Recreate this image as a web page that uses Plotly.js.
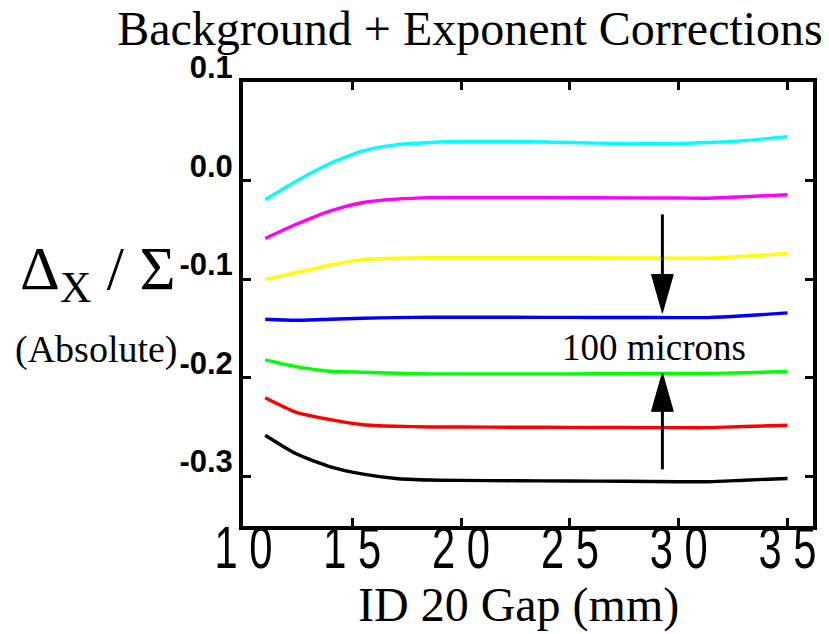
<!DOCTYPE html>
<html>
<head>
<meta charset="utf-8">
<script src="https://cdn.plot.ly/plotly-3.0.1.min.js"></script>
<style>html,body{margin:0;padding:0;background:#fff;}#chart{width:829px;height:634px;}</style>
</head>
<body>
<div id="chart"></div>
<script>
// ---- data ----
const gap = [11, 12.4, 14, 15.5, 17, 18.6, 20, 22.5, 25, 27.5, 30, 31.3, 33, 35];
const cyan    = [-0.019, -0.0005, 0.018, 0.0305, 0.0366, 0.039, 0.040, 0.040, 0.039, 0.038, 0.038, 0.039, 0.041, 0.045];
const magenta = [-0.0585, -0.0443, -0.0303, -0.0219, -0.0185, -0.0169, -0.0168, -0.0168, -0.017, -0.0172, -0.0174, -0.0176, -0.016, -0.014];
const yellow  = [-0.0999, -0.0932, -0.0854, -0.0797, -0.0785, -0.078, -0.078, -0.078, -0.078, -0.0782, -0.0784, -0.0784, -0.0765, -0.0737];
const blue    = [-0.1405, -0.1415, -0.1405, -0.1395, -0.1388, -0.1385, -0.1385, -0.1385, -0.1386, -0.1387, -0.1388, -0.1388, -0.137, -0.134];
const green   = [-0.1818, -0.1886, -0.1933, -0.1943, -0.1953, -0.196, -0.196, -0.196, -0.196, -0.1958, -0.1955, -0.1955, -0.1948, -0.1936];
const red     = [-0.2203, -0.2348, -0.2425, -0.2476, -0.2492, -0.2499, -0.25, -0.2502, -0.2503, -0.2505, -0.2506, -0.2506, -0.2495, -0.2482];
const black   = [-0.2583, -0.2769, -0.2904, -0.2978, -0.3022, -0.3038, -0.3042, -0.3045, -0.3048, -0.305, -0.3055, -0.3055, -0.304, -0.3022];
const seriesList = [cyan, magenta, yellow, blue, green, red, black];
const seriesColors = ['#00FFFF', '#FF00FF', '#FFFF00', '#0000FF', '#00FF00', '#FF0000', '#000000'];

const xTickVals = [10, 15, 20, 25, 30, 35];
const xTickText = ['1 0', '1 5', '2 0', '2 5', '3 0', '3 5'];
const yTickVals = [0.1, 0.0, -0.1, -0.2, -0.3];
const yTickText = ['0.1', '0.0', '-0.1', '-0.2', '-0.3'];

const titleText = 'Background + Exponent Corrections';
const xTitleText = 'ID 20 Gap (mm)';
const yTitleText = 'Δ<sub>X</sub> / Σ';
const ySubTitleText = '(Absolute)';
const noteText = '100 microns';

// arrows (data units)
const arrowX = 29.25;
const arrowDown = [-0.034, -0.134];   // tail, tip
const arrowUp = [-0.293, -0.195];     // tail, tip
const headLen = 0.039, headHalfW = 0.5;

// ---- layout geometry ----
const W = 829, H = 634;
const M = {l: 243, r: 16, t: 82, b: 108};
const PW = W - M.l - M.r, PH = H - M.t - M.b;
const px2x = px => (px - M.l) / PW;
const py2y = py => (H - M.b - py) / PH;

const serif = 'Liberation Serif, Times New Roman, serif';
const xLabelWidth = 58; // condensed width of each x tick label, px

const traces = seriesList.map((s, i) => ({
  x: gap, y: s, type: 'scatter', mode: 'lines',
  line: {color: seriesColors[i], width: 3.4, shape: 'spline', smoothing: 0.6},
  hoverinfo: 'skip', showlegend: false
}));

function arrowShapes(a) {
  const tail = a[0], tip = a[1];
  const dir = tip > tail ? 1 : -1;
  const base = tip - dir * headLen;
  return [
    {type: 'line', xref: 'x', yref: 'y', x0: arrowX, x1: arrowX, y0: tail, y1: base,
     line: {color: '#000', width: 3}},
    {type: 'path', xref: 'x', yref: 'y',
     path: `M ${arrowX - headHalfW},${base} L ${arrowX + headHalfW},${base} L ${arrowX},${tip} Z`,
     fillcolor: '#000', line: {color: '#000', width: 1}}
  ];
}

const axisCommon = {
  showline: true, linecolor: '#000', linewidth: 4, mirror: 'ticks',
  ticks: 'inside', ticklen: 8, tickwidth: 3, tickcolor: '#000',
  showgrid: false, zeroline: false, tickmode: 'array'
};

const layout = {
  width: W, height: H,
  margin: M,
  paper_bgcolor: '#fff', plot_bgcolor: '#fff',
  title: {
    text: titleText, font: {family: serif, size: 48, color: '#000'},
    xref: 'container', yref: 'container', x: 470 / W, xanchor: 'center',
    y: 1 - 28 / H, yanchor: 'middle'
  },
  xaxis: Object.assign({}, axisCommon, {
    range: [9.98, 36.17],
    tickvals: xTickVals, ticktext: xTickText,
    tickfont: {family: 'Liberation Sans', size: 60, color: '#000', weight: 'normal'},
    ticklabelstandoff: -34,
    ticklabeloverflow: 'allow'
  }),
  yaxis: Object.assign({}, axisCommon, {
    range: [-0.3505, 0.1005],
    tickvals: yTickVals, ticktext: yTickText,
    tickfont: {family: 'Liberation Sans', size: 31, color: '#000', weight: 'bold'},
    ticklabelshift: -15
  }),
  shapes: arrowShapes(arrowDown).concat(arrowShapes(arrowUp)),
  annotations: [
    {text: xTitleText, xref: 'paper', yref: 'paper', x: px2x(518), y: py2y(605),
     xanchor: 'center', yanchor: 'middle', showarrow: false,
     font: {family: serif, size: 48, color: '#000'}},
    {text: yTitleText, xref: 'paper', yref: 'paper', x: px2x(18), y: py2y(272),
     xanchor: 'left', yanchor: 'middle', showarrow: false,
     font: {family: serif, size: 62, color: '#000'}},
    {text: ySubTitleText, xref: 'paper', yref: 'paper', x: px2x(13), y: py2y(349),
     xanchor: 'left', yanchor: 'middle', showarrow: false,
     font: {family: serif, size: 38, color: '#000'}},
    {text: noteText, xref: 'paper', yref: 'paper', x: px2x(654), y: py2y(347),
     xanchor: 'center', yanchor: 'middle', showarrow: false,
     font: {family: serif, size: 37, color: '#000'}}
  ]
};

function condenseXLabels(gd) {
  gd.querySelectorAll('.xtick text').forEach(t => {
    t.setAttribute('textLength', xLabelWidth);
    t.setAttribute('lengthAdjust', 'spacingAndGlyphs');
  });
}

const gd = document.getElementById('chart');
Plotly.newPlot(gd, traces, layout, {staticPlot: true, displayModeBar: false})
  .then(() => condenseXLabels(gd));
</script>
</body>
</html>
